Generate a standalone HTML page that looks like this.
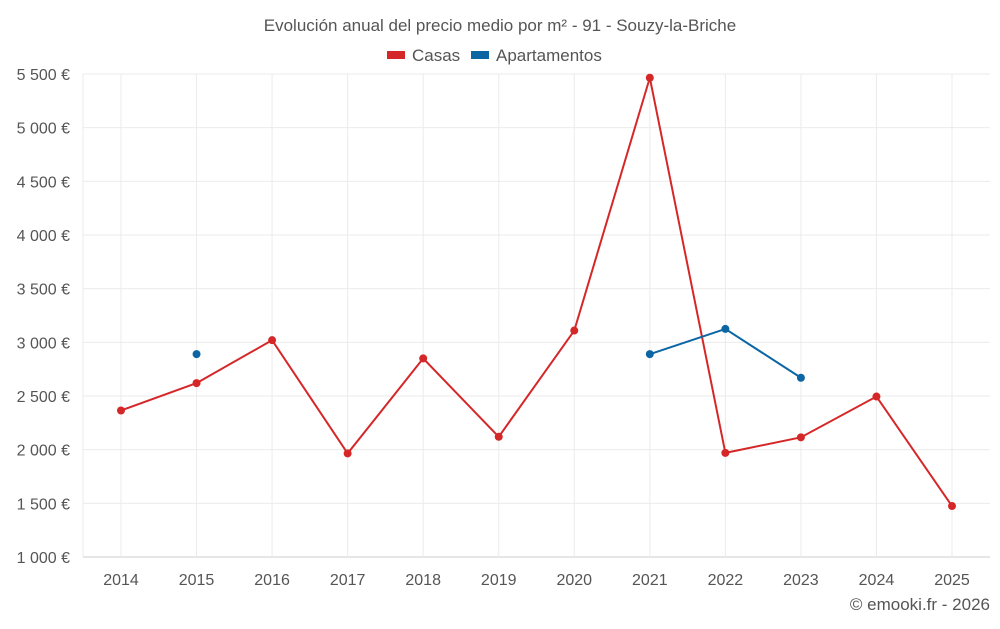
<!DOCTYPE html>
<html><head><meta charset="utf-8">
<style>
html,body{margin:0;padding:0;background:#fff;}
body{width:1000px;height:625px;overflow:hidden;font-family:"Roboto","Liberation Sans",sans-serif;}
svg text{font-family:"Liberation Sans",sans-serif;fill:#555;}
</style></head>
<body>
<svg id="chart" width="1000" height="625" xmlns="http://www.w3.org/2000/svg"></svg>
<script>
const years = [2014,2015,2016,2017,2018,2019,2020,2021,2022,2023,2024,2025];
const casas = [2365,2620,3020,1965,2850,2120,3110,5465,1970,2115,2495,1475];
const apartamentos = [null,2890,null,null,null,null,null,2890,3125,2670,null,null];
const yTicks = [1000,1500,2000,2500,3000,3500,4000,4500,5000,5500];
const yTickLabels = ["1 000 €","1 500 €","2 000 €","2 500 €","3 000 €","3 500 €","4 000 €","4 500 €","5 000 €","5 500 €"];

const NS="http://www.w3.org/2000/svg";
const svg=document.getElementById('chart');
const L=83,R=990,T=74,B=557;
function x(i){return 121+i*(952-121)/(years.length-1);}
function y(v){return B-(v-1000)*(B-T)/4500;}
function mk(tag,attrs,parent){const e=document.createElementNS(NS,tag);for(const k in attrs)e.setAttribute(k,attrs[k]);(parent||svg).appendChild(e);return e;}

// grid
yTicks.forEach((v,i)=>{
  const g=mk('line',{x1:L,x2:R,y1:y(v),y2:y(v),stroke:i===0?'#ccc':'#ebebeb','stroke-width':1});
  
  
  const t=mk('text',{x:70,y:y(v)+6,'text-anchor':'end','font-size':16});
  t.textContent=yTickLabels[i];
  
  
});
years.forEach((yr,i)=>{
  const g=mk('line',{x1:x(i),x2:x(i),y1:T,y2:B,stroke:'#ebebeb','stroke-width':1});
  
  
  const t=mk('text',{x:x(i),y:585,'text-anchor':'middle','font-size':16});
  t.textContent=yr;
  
  
});
mk('line',{x1:L,x2:L,y1:T,y2:B,stroke:'#ebebeb'});

function series(vals,color,name){
  let segs=[],cur=[];
  vals.forEach((v,i)=>{if(v==null){if(cur.length)segs.push(cur);cur=[];}else cur.push([x(i),y(v)]);});
  if(cur.length)segs.push(cur);
  segs.forEach(s=>{if(s.length>1){
    const p=mk('polyline',{points:s.map(p=>p.join(',')).join(' '),fill:'none',stroke:color,'stroke-width':2});
    
    
  }});
  vals.forEach((v,i)=>{if(v!=null){
    const c=mk('circle',{cx:x(i),cy:y(v),r:4,fill:color});
    
    
  }});
}
series(casas,'#d62728','casas');
series(apartamentos,'#0b66a3','apartamentos');

// title & legend
const title=mk('text',{x:500,y:31,'text-anchor':'middle','font-size':17});
title.textContent='Evolución anual del precio medio por m² - 91 - Souzy-la-Briche';


const lg1=mk('rect',{x:387,y:51,width:18,height:8,fill:'#d62728'});


const lt1=mk('text',{x:412,y:61,'font-size':17});lt1.textContent='Casas';


const lg2=mk('rect',{x:471,y:51,width:18,height:8,fill:'#0b66a3'});


const lt2=mk('text',{x:496,y:61,'font-size':17});lt2.textContent='Apartamentos';


const cr=mk('text',{x:990,y:610,'text-anchor':'end','font-size':17});
cr.textContent='© emooki.fr - 2026';


</script>
</body></html>
